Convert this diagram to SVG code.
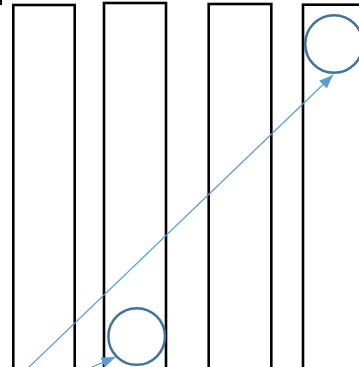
<svg xmlns="http://www.w3.org/2000/svg" width="359" height="367" viewBox="0 0 359 367">
<defs>
<style>
.col{fill:#fff;stroke:#000;stroke-width:2.6}
.ball{fill:none;stroke:#41719C;stroke-width:2.5}
.conn{stroke:#5B9BD5;stroke-width:1.2;fill:none}
</style>
<marker id="ah" viewBox="0 0 14 11" refX="14" refY="5.5" markerWidth="14" markerHeight="11" markerUnits="userSpaceOnUse" orient="auto">
<path d="M0,0 L14,5.5 L0,11 Z" fill="#5B9BD5"/>
</marker>
</defs>
<rect x="0" y="0" width="2" height="5" fill="#000"/>
<g id="column1"><rect class="col" x="13.3" y="5" width="61.4" height="380"/></g>
<g id="column2"><rect class="col" x="104" y="3" width="62" height="380"/></g>
<g id="column3"><rect class="col" x="208.7" y="4" width="62.6" height="380"/></g>
<g id="column4"><rect class="col" x="303" y="4.7" width="80" height="380"/></g>
<g id="circle1"><circle class="ball" cx="136.7" cy="336.5" r="28.3"/></g>
<g id="circle2"><circle class="ball" cx="334" cy="44" r="28.8"/></g>
<g id="connectors">
<line class="conn" x1="28" y1="368" x2="333" y2="75" marker-end="url(#ah)"/>
<line class="conn" x1="92" y1="367" x2="115.5" y2="357" marker-end="url(#ah)"/>
</g>
</svg>
